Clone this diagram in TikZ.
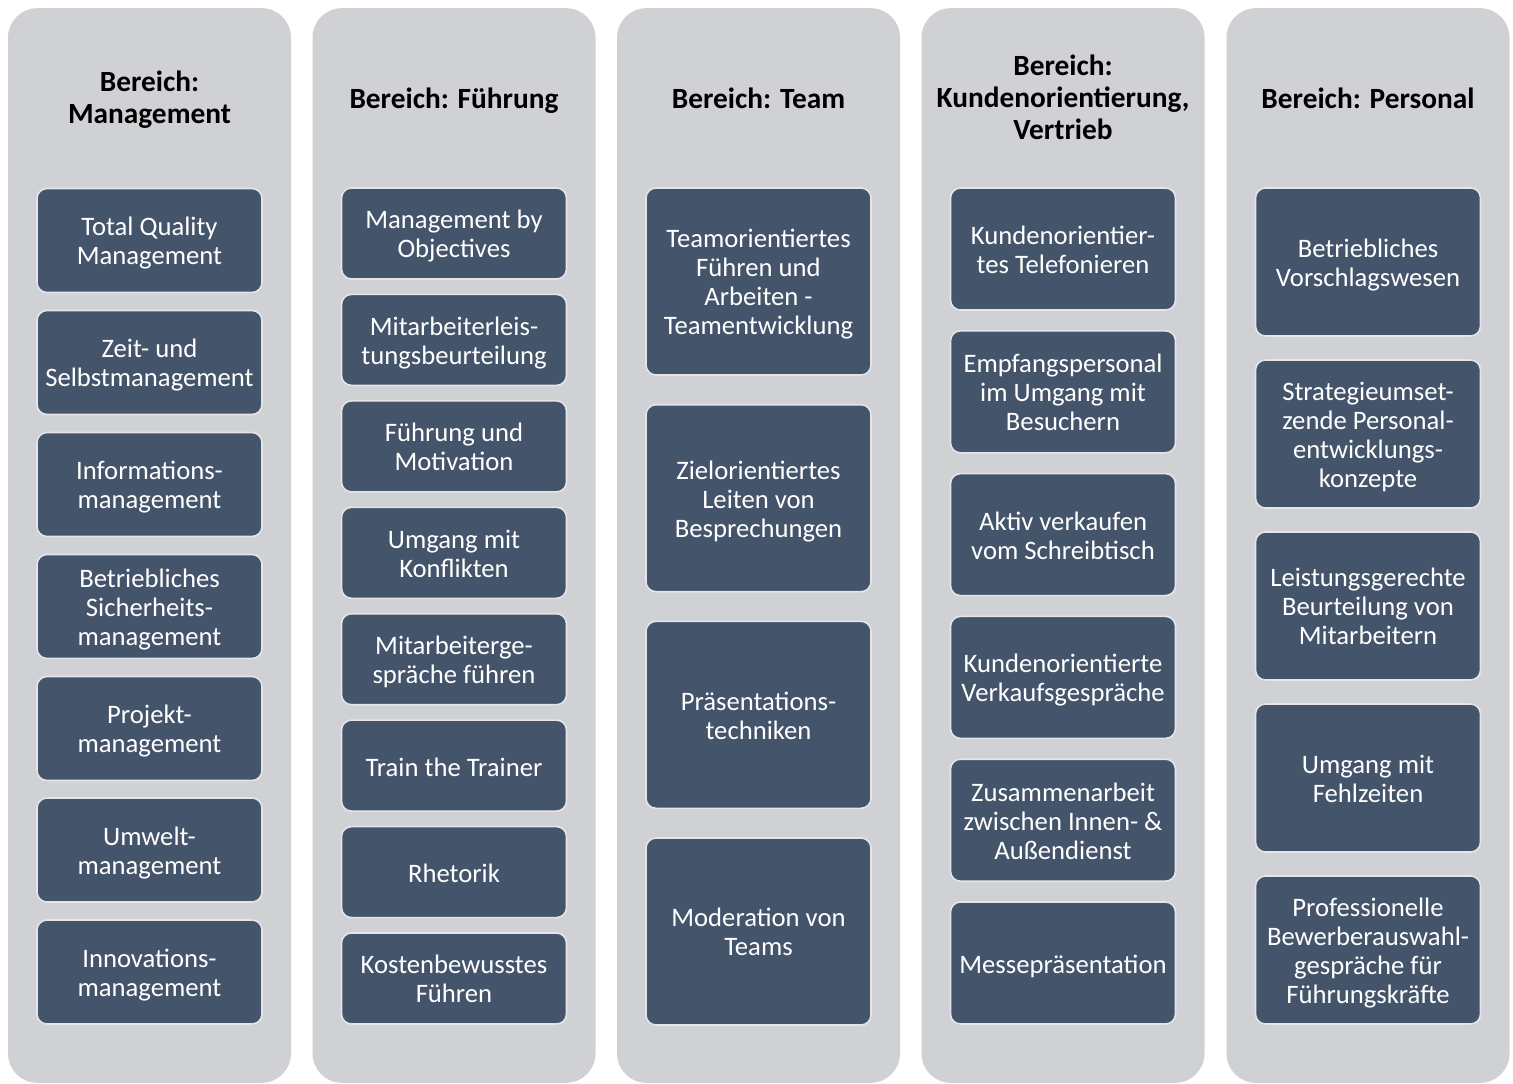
\documentclass[tikz,border=0pt]{standalone}
\usepackage{fontspec}
\setmainfont{Carlito}
\definecolor{colbg}{HTML}{D0D1D5}
\definecolor{boxfill}{HTML}{44546A}
\definecolor{boxline}{HTML}{E4E5E8}
\begin{document}
\begin{tikzpicture}[x=0.75pt,y=-0.75pt,
  column/.style={draw=none,fill=colbg,rounded corners=22pt,minimum width=212.25pt,minimum height=806pt,inner sep=0pt},
  head/.style={align=center,font=\fontsize{22}{24}\selectfont\bfseries,text=black,yshift=-3.5pt,
    execute at begin node=\strut,execute at end node=\strut},
  item/.style={draw=boxline,line width=1.2pt,fill=boxfill,rounded corners=7.5pt,minimum width=168.75pt,minimum height=#1,inner sep=0pt,align=center,text=white,font=\fontsize{20}{21.75}\selectfont,
    execute at begin node=\strut,execute at end node=\strut},
  txt/.style={align=center,text=white,font=\fontsize{20}{21.75}\selectfont,yshift=-3.75pt,
    execute at begin node=\strut,execute at end node=\strut}]
\useasboundingbox (0,0) rectangle (1513,1084);
% columns
\node[column] (c1) at (149.5,545.5) {};
\node[column] (c2) at (454,545.5) {};
\node[column] (c3) at (758.5,545.5) {};
\node[column] (c4) at (1063,545.5) {};
\node[column] (c5) at (1368,545.5) {};
% headers
\node[head] (h1) at (149.5,97) {Bereich:\\Management};
\node[head] (h2) at (454,97) {Bereich: Führung};
\node[head] (h3) at (758.5,97) {Bereich: Team};
\node[head] (h4) at (1063,97) {Bereich:\\Kundenorientierung,\\Vertrieb};
\node[head] (h5) at (1368,97) {Bereich: Personal};
% boxes: frame node + text label shifted to match
\tikzset{lbl/.style={label={[txt]center:#1}}}
% column 1
\node[item=78pt,label={[txt]center:{Total Quality\\Management}}] (m1) at (149.5,240.5) {};
\node[item=78pt,label={[txt]center:{Zeit- und\\Selbstmanagement}}] (m2) at (149.5,362.5) {};
\node[item=78pt,label={[txt]center:{Informations-\\management}}] (m3) at (149.5,484.5) {};
\node[item=78pt,label={[txt]center:{Betriebliches\\Sicherheits-\\management}}] (m4) at (149.5,606.5) {};
\node[item=78pt,label={[txt]center:{Projekt-\\management}}] (m5) at (149.5,728.5) {};
\node[item=78pt,label={[txt]center:{Umwelt-\\management}}] (m6) at (149.5,850) {};
\node[item=78pt,label={[txt]center:{Innovations-\\management}}] (m7) at (149.5,972) {};
% column 2
\node[item=68.25pt,label={[txt]center:{Management by\\Objectives}}] (f1) at (454,233.5) {};
\node[item=68.25pt,label={[txt]center:{Mitarbeiterleis-\\tungsbeurteilung}}] (f2) at (454,339.9) {};
\node[item=68.25pt,label={[txt]center:{Führung und\\Motivation}}] (f3) at (454,446.4) {};
\node[item=68.25pt,label={[txt]center:{Umgang mit\\Konflikten}}] (f4) at (454,552.8) {};
\node[item=68.25pt,label={[txt]center:{Mitarbeiterge-\\spräche führen}}] (f5) at (454,659.2) {};
\node[item=68.25pt,label={[txt]center:{Train the Trainer}}] (f6) at (454,765.6) {};
\node[item=68.25pt,label={[txt]center:{Rhetorik}}] (f7) at (454,872.1) {};
\node[item=68.25pt,label={[txt]center:{Kostenbewusstes\\Führen}}] (f8) at (454,978.5) {};
% column 3
\node[item=140.25pt,label={[txt]center:{Teamorientiertes\\Führen und\\Arbeiten -\\Teamentwicklung}}] (t1) at (758.5,281.5) {};
\node[item=140.25pt,label={[txt]center:{Zielorientiertes\\Leiten von\\Besprechungen}}] (t2) at (758.5,498.2) {};
\node[item=140.25pt,label={[txt]center:{Präsentations-\\techniken}}] (t3) at (758.5,714.8) {};
\node[item=140.25pt,label={[txt]center:{Moderation von\\Teams}}] (t4) at (758.5,931.5) {};
% column 4
\node[item=91.5pt,label={[txt]center:{Kundenorientier-\\tes Telefonieren}}] (k1) at (1063,249) {};
\node[item=91.5pt,label={[txt]center:{Empfangspersonal\\im Umgang mit\\Besuchern}}] (k2) at (1063,391.8) {};
\node[item=91.5pt,label={[txt]center:{Aktiv verkaufen\\vom Schreibtisch}}] (k3) at (1063,534.6) {};
\node[item=91.5pt,label={[txt]center:{Kundenorientierte\\Verkaufsgespräche}}] (k4) at (1063,677.4) {};
\node[item=91.5pt,label={[txt]center:{Zusammenarbeit\\zwischen Innen- \&\\Außendienst}}] (k5) at (1063,820.2) {};
\node[item=91.5pt,label={[txt]center:{Messepräsentation}}] (k6) at (1063,963) {};
% column 5
\node[item=111pt,label={[txt]center:{Betriebliches\\Vorschlagswesen}}] (p1) at (1368,262) {};
\node[item=111pt,label={[txt]center:{Strategieumset-\\zende Personal-\\entwicklungs-\\konzepte}}] (p2) at (1368,434) {};
\node[item=111pt,label={[txt]center:{Leistungsgerechte\\Beurteilung von\\Mitarbeitern}}] (p3) at (1368,606) {};
\node[item=111pt,label={[txt]center:{Umgang mit\\Fehlzeiten}}] (p4) at (1368,778) {};
\node[item=111pt,label={[txt]center:{Professionelle\\Bewerberauswahl-\\gespräche für\\Führungskräfte}}] (p5) at (1368,950) {};
\end{tikzpicture}
\end{document}
